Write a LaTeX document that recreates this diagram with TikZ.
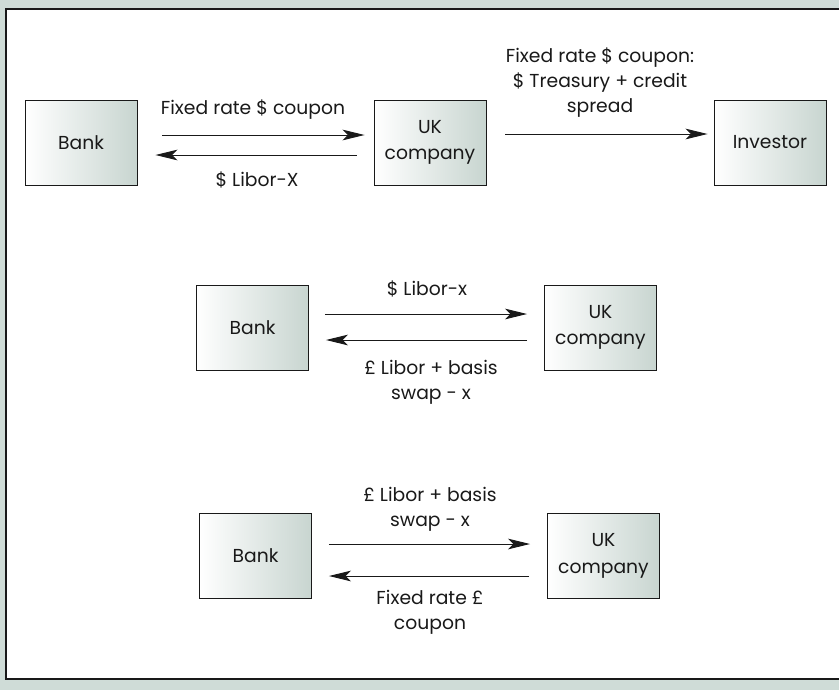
\documentclass[tikz,border=0pt]{standalone}
\usepackage{fontspec}
\setmainfont{Poppins}
\usepackage{tikz}
\usetikzlibrary{calc,positioning,arrows.meta,shadings}

\definecolor{panelbg}{RGB}{207,220,215}
\definecolor{boxgrey}{RGB}{200,213,208}
\definecolor{ink}{RGB}{25,25,25}

\tikzset{
	party/.style={draw=ink,line width=0.8pt,minimum width=3.36cm,minimum height=2.55cm,
		left color=white,right color=boxgrey,align=center,font=\fontsize{16}{22.5}\selectfont,text=ink},
	flow/.style={draw=ink,line width=0.8pt,-{Stealth[length=0.66cm,width=0.32cm,inset=0.16cm]}},
	txt/.style={align=center,font=\fontsize{16}{21.3}\selectfont,text=ink,inner sep=0pt}
}

\begin{document}
\begin{tikzpicture}[x=0.03cm,y=-0.03cm]
	\useasboundingbox (0,0) rectangle (839,690);
	\fill[panelbg] (0,0) rectangle (839,690);
	\filldraw[fill=white,draw=ink,line width=1.3pt] (845,9) -- (6,9) -- (6,679) -- (845,679);

	% top row
	\node(bank1) [party] at (81,142.5) {Bank};
	\node(uk1)   [party] at (430,142.5) {UK\\company};
	\node(inv)   [party] at (770,142.5) {Investor};
	\draw[flow] ([shift={(25,-7.5)}]bank1.east) -- ([shift={(-9,-7.5)}]uk1.west);
	\draw[flow] ([shift={(-17,12.5)}]uk1.west) -- ([shift={(18,12.5)}]bank1.east);
	\draw[flow] ([shift={(19,-8.5)}]uk1.east) -- ([shift={(-6,-8.5)}]inv.west);
	\node(l1a) [txt] at (253,110) {Fixed rate \$ coupon};
	\node(l1b) [txt] at (257,180) {\$ Libor-X};
	\node(l1c) [txt] at (600,83) {Fixed rate \$ coupon:\\\$ Treasury + credit\\spread};

	% middle row
	\node(bank2) [party] at (252.5,327.5) {Bank};
	\node(uk2)   [party] at (600.5,327.5) {UK\\company};
	\draw[flow] ([shift={(16,-13.5)}]bank2.east) -- ([shift={(-17,-13.5)}]uk2.west);
	\draw[flow] ([shift={(-17,12.5)}]uk2.west) -- ([shift={(17,12.5)}]bank2.east);
	\node(l2a) [txt] at (427,289) {\$ Libor-x};
	\node(l2b) [txt] at (431,382) {£ Libor + basis\\swap - x};

	% bottom row
	\node(bank3) [party] at (255.5,556) {Bank};
	\node(uk3)   [party] at (603.5,556) {UK\\company};
	\draw[flow] ([shift={(17,-12)}]bank3.east) -- ([shift={(-17,-12)}]uk3.west);
	\draw[flow] ([shift={(-18,20)}]uk3.west) -- ([shift={(17,20)}]bank3.east);
	\node(l3a) [txt] at (430,509.5) {£ Libor + basis\\swap - x};
	\node(l3b) [txt] at (430,612) {Fixed rate £\\coupon};
\end{tikzpicture}
\end{document}
